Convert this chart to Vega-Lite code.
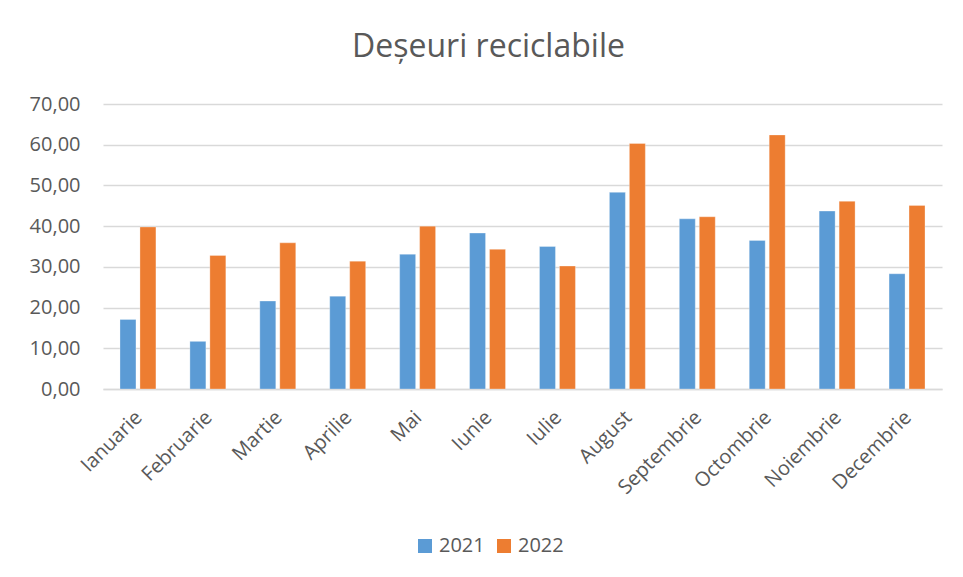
{
  "$schema": "https://vega.github.io/schema/vega-lite/v6.json",
  "autosize": {"type": "none"},
  "width": 839,
  "height": 285,
  "padding": {"left": 103, "top": 104, "right": 21, "bottom": 188},
  "background": "white",
  "title": {
    "text": "Deșeuri reciclabile",
    "font": "Open Sans",
    "fontSize": 32,
    "fontWeight": "normal",
    "color": "#595959",
    "anchor": "middle",
    "dx": -34,
    "offset": 30
  },
  "data": {
    "values": [
      {"luna": "Ianuarie", "an": "2021", "valoare": 17.1},
      {"luna": "Ianuarie", "an": "2022", "valoare": 39.8},
      {"luna": "Februarie", "an": "2021", "valoare": 11.7},
      {"luna": "Februarie", "an": "2022", "valoare": 32.8},
      {"luna": "Martie", "an": "2021", "valoare": 21.6},
      {"luna": "Martie", "an": "2022", "valoare": 35.9},
      {"luna": "Aprilie", "an": "2021", "valoare": 22.8},
      {"luna": "Aprilie", "an": "2022", "valoare": 31.4},
      {"luna": "Mai", "an": "2021", "valoare": 33.1},
      {"luna": "Mai", "an": "2022", "valoare": 40.0},
      {"luna": "Iunie", "an": "2021", "valoare": 38.3},
      {"luna": "Iunie", "an": "2022", "valoare": 34.3},
      {"luna": "Iulie", "an": "2021", "valoare": 35.0},
      {"luna": "Iulie", "an": "2022", "valoare": 30.2},
      {"luna": "August", "an": "2021", "valoare": 48.3},
      {"luna": "August", "an": "2022", "valoare": 60.3},
      {"luna": "Septembrie", "an": "2021", "valoare": 41.8},
      {"luna": "Septembrie", "an": "2022", "valoare": 42.3},
      {"luna": "Octombrie", "an": "2021", "valoare": 36.5},
      {"luna": "Octombrie", "an": "2022", "valoare": 62.4},
      {"luna": "Noiembrie", "an": "2021", "valoare": 43.7},
      {"luna": "Noiembrie", "an": "2022", "valoare": 46.1},
      {"luna": "Decembrie", "an": "2021", "valoare": 28.3},
      {"luna": "Decembrie", "an": "2022", "valoare": 45.1}
    ]
  },
  "mark": {"type": "bar", "stroke": "white", "strokeWidth": 0.5, "strokeOpacity": 0.6},
  "encoding": {
    "x": {
      "field": "luna",
      "type": "nominal",
      "sort": null,
      "title": null,
      "scale": {"paddingInner": 0.486, "paddingOuter": 0.243},
      "axis": {
        "labelAngle": -45,
        "labelAlign": "right",
        "labelBaseline": "top",
        "labelFont": "Open Sans",
        "labelFontSize": 20,
        "labelColor": "#595959",
        "labelPadding": 18,
        "labelOffset": -6,
        "ticks": false,
        "domainColor": "#d9d9d9",
        "domainWidth": 1.5,
        "grid": false
      }
    },
    "xOffset": {
      "field": "an",
      "type": "nominal",
      "scale": {"paddingInner": 0.2, "paddingOuter": 0}
    },
    "y": {
      "field": "valoare",
      "type": "quantitative",
      "title": null,
      "scale": {"domain": [0, 70], "nice": false},
      "axis": {
        "values": [0, 10, 20, 30, 40, 50, 60, 70],
        "labelExpr": "replace(format(datum.value, '.2f'), '.', ',')",
        "labelFont": "Open Sans",
        "labelFontSize": 20,
        "labelColor": "#595959",
        "labelPadding": 23,
        "ticks": false,
        "domain": false,
        "grid": true,
        "gridColor": "#d9d9d9",
        "gridWidth": 1.5
      }
    },
    "color": {
      "field": "an",
      "type": "nominal",
      "title": null,
      "scale": {"domain": ["2021", "2022"], "range": ["#5b9bd5", "#ed7d31"]},
      "legend": {
        "orient": "none",
        "direction": "horizontal",
        "legendX": 312,
        "legendY": 432,
        "symbolType": "square",
        "symbolSize": 196,
        "symbolStrokeWidth": 0,
        "labelFont": "Open Sans",
        "labelFontSize": 20,
        "labelColor": "#595959",
        "labelOffset": 4,
        "columnPadding": 9
      }
    }
  },
  "config": {
    "view": {"stroke": null}
  }
}
